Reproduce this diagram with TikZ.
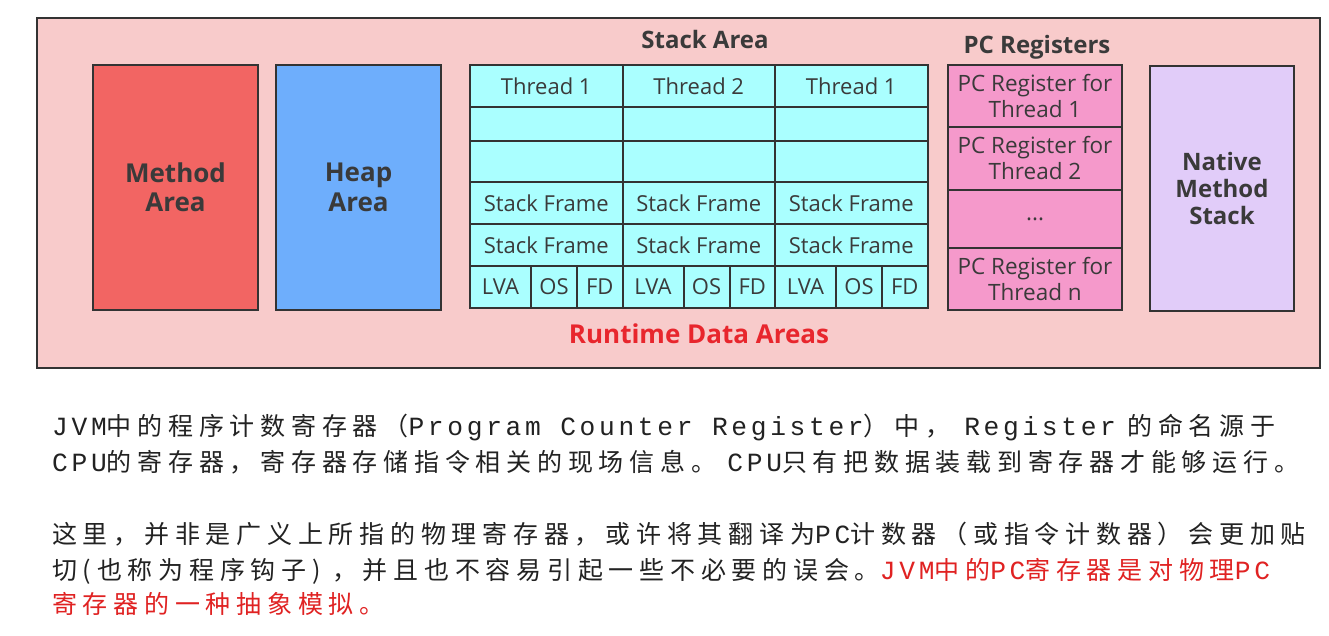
\documentclass[tikz,border=0pt]{standalone}
\usepackage{fontspec}
\setmainfont{Open Sans}
\newfontfamily\cjk[LetterSpace=23]{Noto Sans CJK SC}
\newfontfamily\cjkmono[Scale=1.05, LetterSpace=14]{Liberation Mono}
\newcommand\lat[1]{{\cjkmono #1}}
\usetikzlibrary{positioning}
\definecolor{outerc}{HTML}{F8CBCB}
\definecolor{methodc}{HTML}{F26563}
\definecolor{heapc}{HTML}{6EAEFC}
\definecolor{stackc}{HTML}{AAFFFF}
\definecolor{pcc}{HTML}{F599CB}
\definecolor{nativec}{HTML}{E1CCF9}
\definecolor{linec}{HTML}{333333}
\definecolor{textc}{HTML}{3A3A3A}
\definecolor{redc}{HTML}{E8262D}
\definecolor{redtxt}{HTML}{E02222}
\definecolor{bodyc}{HTML}{222222}
\tikzset{
  area/.style={draw=linec, line width=2.2pt, minimum width=165, minimum height=245,
               inner sep=0pt, align=center, text=textc,
               font=\bfseries\fontsize{26}{29.5}\selectfont},
  cell/.style={draw=linec, line width=2pt, fill=stackc, inner sep=0pt, outer sep=0pt,
               anchor=north west, minimum width=152.5, text=textc,
               font=\fontsize{22}{24}\selectfont},
  pcreg/.style={cell, fill=pcc, minimum width=174, align=center,
                font=\fontsize{22.5}{26}\selectfont},
  title/.style={text=textc, inner sep=0pt, font=\bfseries\fontsize{24}{26}\selectfont},
  body/.style={anchor=base west, inner sep=0pt, text=bodyc,
               font=\cjk\fontsize{25}{25}\selectfont},
}

\begin{document}
\begin{tikzpicture}[x=1pt, y=-1pt]
  \useasboundingbox[fill=white] (0,0) rectangle (1329,636);
  \node[draw=linec, line width=2.2pt, fill=outerc, minimum width=1283,
        minimum height=350, inner sep=0pt] (rda) at (678.5,193) {};
  \node[area, fill=methodc] (method) at (175.5,187.5) {Method\\Area};
  \node[area, fill=heapc] (heap) at (358.5,187.5) {Heap\\Area};
  \node[area, fill=nativec, minimum width=144, font=\bfseries\fontsize{24}{27}\selectfont]
    (native) at (1222,188.5) {Native\\Method\\Stack};

  \node[title] (stacklbl) at (705,40) {Stack Area};
  \foreach \t [count=\i] in {1,2,1} {
    \pgfmathsetmacro\xl{470+(\i-1)*152.5}
    \node[cell, minimum height=42] (thr\i) at (\xl,65) {Thread \t};
    \node[cell, minimum height=34] (ea\i) at (thr\i.south west) {};
    \node[cell, minimum height=41] (eb\i) at (ea\i.south west) {};
    \node[cell, minimum height=42] (sfa\i) at (eb\i.south west) {Stack Frame};
    \node[cell, minimum height=42] (sfb\i) at (sfa\i.south west) {Stack Frame};
    \node[cell, minimum width=61, minimum height=42] (lva\i) at (sfb\i.south west) {LVA};
    \node[cell, minimum width=46, minimum height=42] (os\i) at (lva\i.north east) {OS};
    \node[cell, minimum width=45.5, minimum height=42] (fd\i) at (os\i.north east) {FD};
  }

  \node[title] (pclbl) at (1037,47) {PC Registers};
  \node[pcreg, minimum height=62] (pc1) at (948,65) {PC Register for\\Thread 1};
  \node[pcreg, minimum height=63] (pc2) at (pc1.south west) {PC Register for\\Thread 2};
  \node[pcreg, minimum height=58] (pcdots) at (pc2.south west) {...};
  \node[pcreg, minimum height=62] (pcn) at (pcdots.south west) {PC Register for\\Thread n};

  \node[title, text=redc, font=\bfseries\fontsize{26}{28}\selectfont] (rdalbl)
    at (699,334) {Runtime Data Areas};

  \node[body] (l1) at (52,435)
    {\lat{JVM}中的程序计数寄存器（\lat{Program Counter Register}）中，\hspace{14pt}\lat{Register} 的命名源于};
  \node[body] (l2) at (52,471)
    {\lat{CPU}的寄存器，寄存器存储指令相关的现场信息。 \lat{CPU}只有把数据装载到寄存器才能够运行。};
  \node[body] (l3) at (52,543)
    {这里，并非是广义上所指的物理寄存器，或许将其翻译为\lat{PC}计数器（或指令计数器）会更加贴};
  \node[body] (l4) at (52,579)
    {切(也称为程序钩子) ，并且也不容易引起一些不必要的误会。\textcolor{redtxt}{\lat{JVM}中的\lat{PC}寄存器是对物理\lat{PC}}};
  \node[body, text=redtxt] (l5) at (52,613) {寄存器的一种抽象模拟。};
\end{tikzpicture}
\end{document}
